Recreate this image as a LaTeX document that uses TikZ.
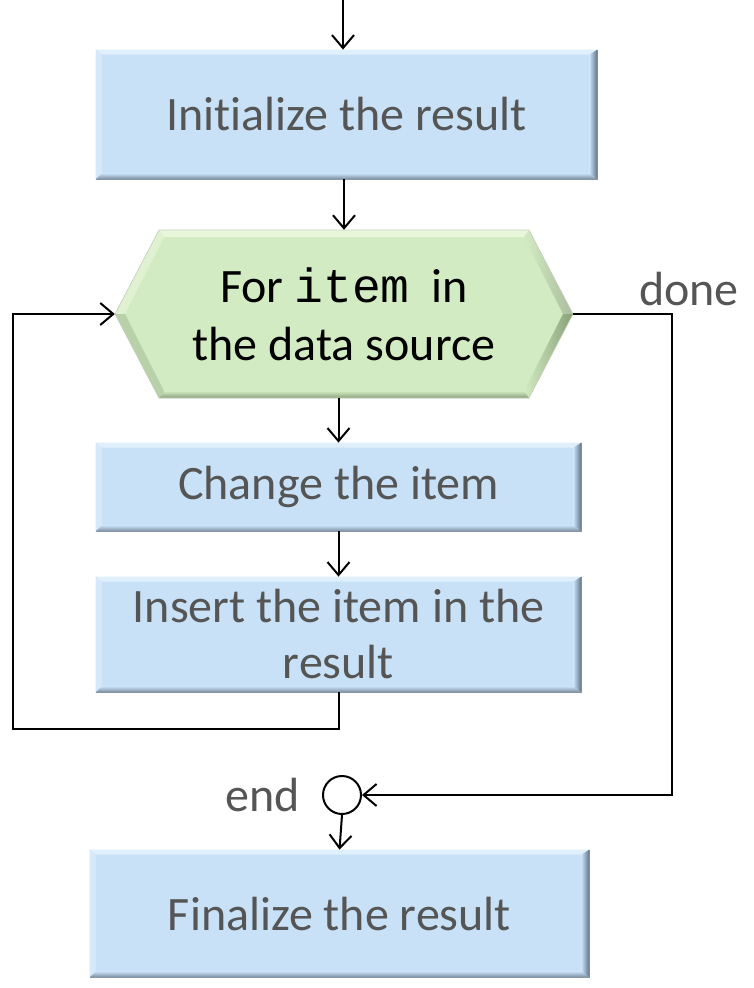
\documentclass[tikz,border=0pt]{standalone}
\usepackage{fontspec}
\setmainfont{Carlito}[Ligatures={NoCommon}]
\newfontfamily\codefont{Liberation Mono}
\usetikzlibrary{positioning,calc,arrows.meta}
\definecolor{boxblue}{HTML}{C8E1F7}
\definecolor{boxblueL}{HTML}{E0EFFC}
\definecolor{boxblueD}{HTML}{5E7386}
\definecolor{hexgreen}{HTML}{D3EBC3}
\definecolor{hexgreenL}{HTML}{E8F6DC}
\definecolor{hexgreenD}{HTML}{86A076}
\definecolor{txtgray}{HTML}{555555}

% bevelled edges of a box node
\newcommand\bevelbox[1]{%
  \fill[boxblueL] (#1.north west) -- (#1.north east) -- ($(#1.north east)+(-8,5)$) -- ($(#1.north west)+(6,5)$) -- cycle;
  \fill[boxblueL!60!boxblue] (#1.north west) -- ($(#1.north west)+(6,5)$) -- ($(#1.south west)+(6,-6)$) -- (#1.south west) -- cycle;
  \shade[left color=boxblue, right color=boxblueD] (#1.north east) -- ($(#1.north east)+(-8,5)$) -- ($(#1.south east)+(-8,-6)$) -- (#1.south east) -- cycle;
  \shade[top color=boxblue, bottom color=boxblueD!85] (#1.south west) -- ($(#1.south west)+(6,-6)$) -- ($(#1.south east)+(-8,-6)$) -- (#1.south east) -- cycle;
}

\begin{document}
\begin{tikzpicture}[x=1pt,y=-1pt,
      box/.style={fill=boxblue, draw=boxblueD!70, line width=0.8pt, text=txtgray,
        inner sep=0, align=center, font=\fontsize{48}{56}\selectfont},
      hexnode/.style={minimum width=458, minimum height=168, inner sep=0,
        align=center, font=\fontsize{48}{58}\selectfont},
      lbl/.style={text=txtgray, inner sep=0, font=\fontsize{48}{56}\selectfont},
      arr/.style={-{Straight Barb[length=13pt,width=22pt]}, line width=2pt},
      ]
      \useasboundingbox (0,0) rectangle (753,988);

      % boxes
      \node[box, minimum width=501, minimum height=129] (init) at (346.5,114.5) {Initialize the result};
      \node[box, minimum width=485, minimum height=88] (change) at (338.5,487) {Change the item};
      \node[box, minimum width=485, minimum height=115] (insert) at (338.5,634.5) {Insert the item in the\\result};
      \node[box, minimum width=499, minimum height=127] (finalize) at (339.5,913.5) {Finalize the result};
      \bevelbox{init}
      \bevelbox{change}
      \bevelbox{insert}
      \bevelbox{finalize}

      % loop hexagon
      \coordinate (H1) at (115,314);
      \coordinate (H2) at (159,230);
      \coordinate (H3) at (529,230);
      \coordinate (H4) at (573,314);
      \coordinate (H5) at (529,398);
      \coordinate (H6) at (159,398);
      \coordinate (I1) at (125,314);
      \coordinate (I2) at (164,237);
      \coordinate (I3) at (524,237);
      \coordinate (I4) at (563,314);
      \coordinate (I5) at (524,391);
      \coordinate (I6) at (164,391);

      \fill[hexgreen] (H1) -- (H2) -- (H3) -- (H4) -- (H5) -- (H6) -- cycle;
      \fill[hexgreenL] (H2) -- (H3) -- (I3) -- (I2) -- cycle;
      \fill[hexgreenL!60!hexgreen] (H1) -- (H2) -- (I2) -- (I1) -- cycle;
      \shade[left color=hexgreen, right color=hexgreenD!70] (H3) -- (H4) -- (I4) -- (I3) -- cycle;
      \shade[left color=hexgreen, right color=hexgreenD] (H4) -- (H5) -- (I5) -- (I4) -- cycle;
      \shade[top color=hexgreen, bottom color=hexgreenD] (H5) -- (H6) -- (I6) -- (I5) -- cycle;
      \fill[hexgreenD!35!hexgreen] (H6) -- (H1) -- (I1) -- (I6) -- cycle;
      \draw[hexgreenD!50, line width=0.6pt] (H1) -- (H2) -- (H3) -- (H4) -- (H5) -- (H6) -- cycle;

      \node[hexnode] (loop) at (344,314) {For {\codefont item} \ in\\the data source};

      % end point and labels
      \node[circle, draw, line width=2pt, minimum size=38, inner sep=0] (endpt) at (342,795) {};
      \node[lbl, left=22pt of endpt] (endlbl) {end};
      \node[lbl] (donelbl) at (689,289) {done};

      \coordinate (start) at (343,0);
      \coordinate (backcorner) at (13,729);
      \coordinate (donecorner) at (672,795);

      % connectors
      \draw[arr] (start) -- (start |- init.north);
      \draw[arr] (init.south -| loop.north) -- (loop.north);
      \draw[arr] (loop.south -| change.north) -- (change.north);
      \draw[arr] (change.south) -- (insert.north);
      \draw[arr] (insert.south) |- (backcorner) |- (loop.west);
      \draw[arr] (loop.east) -| (donecorner) -- (endpt.east);
      \draw[arr] (endpt.south) -- (finalize.north);
      \end{tikzpicture}
\end{document}
